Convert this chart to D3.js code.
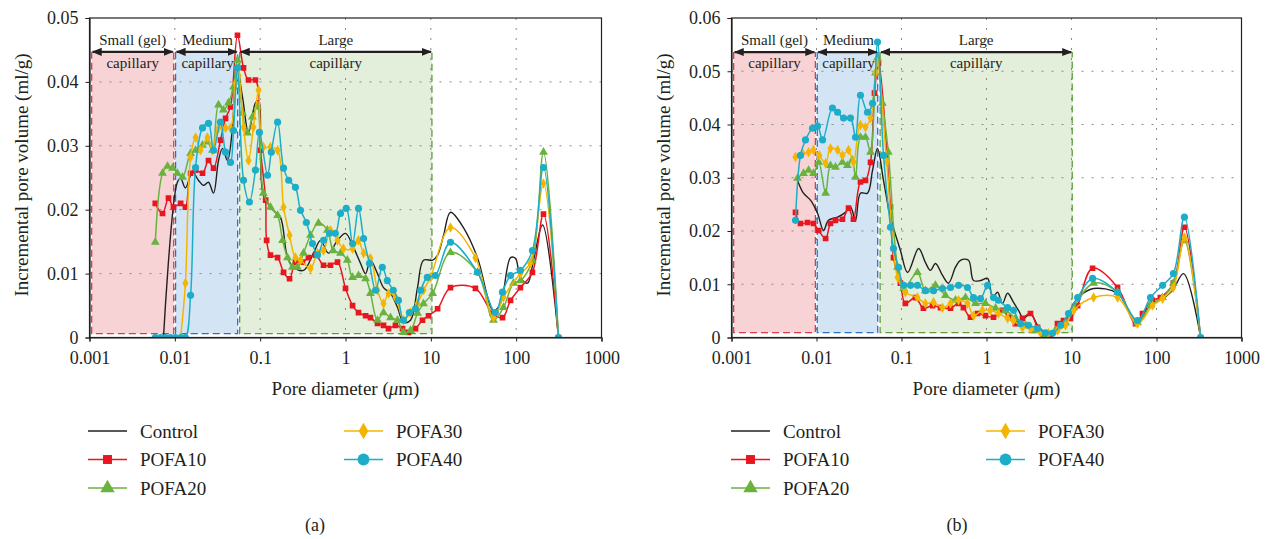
<!DOCTYPE html>
<html><head><meta charset="utf-8">
<script src="https://cdn.jsdelivr.net/npm/d3@7"></script>
<style>
body{margin:0;background:#fff}
svg{display:block}
text{font-family:"Liberation Serif","DejaVu Serif",serif;fill:#231f20}
</style>
</head><body>
<svg id="chart" width="1271" height="539"></svg>
<script>
// ---------- data ----------
const seriesNames = ["Control","POFA10","POFA20","POFA30","POFA40"];
const seriesColors = ["#231f20","#e8161f","#6ab23e","#f5b400","#1cadc9"];
const seriesMarkers = ["none","square","triangle","diamond","circle"];
const xTickValues = [0.001,0.01,0.1,1,10,100,1000];
const xTickLabels = ["0.001","0.01","0.1","1","10","100","1000"];
const yTickValuesA = [0,0.01,0.02,0.03,0.04,0.05];
const yTickLabelsA = ["0","0.01","0.02","0.03","0.04","0.05"];
const yTickValuesB = [0,0.01,0.02,0.03,0.04,0.05,0.06];
const yTickLabelsB = ["0","0.01","0.02","0.03","0.04","0.05","0.06"];
const regionLabels = [["Small (gel)","capillary"],["Medium","capillary"],["Large","capillary"]];
const regionBoundsA = [[0.00106,0.0097],[0.0102,0.0545],[0.0575,10.3]];
const regionBoundsB = [[0.00106,0.0097],[0.0102,0.0525],[0.056,10.2]];
const regionYA = [0.0006,0.0447];
const regionYB = [0.0009,0.0536];
const xTitle = "Pore diameter (";
const yTitle = "Incremental pore volume (ml/g)";
const captions = ["(a)","(b)"];

const a_Control = [[0.00736,0],[0.0107,0.0243],[0.0117,0.0249],[0.0133,0.0234],[0.0161,0.0259],[0.0189,0.0246],[0.0217,0.0238],[0.0248,0.0243],[0.0284,0.0226],[0.0325,0.0277],[0.0362,0.0296],[0.0414,0.0277],[0.0474,0.0329],[0.0528,0.0426],[0.0621,0.0376],[0.073,0.0321],[0.088,0.0367],[0.0957,0.0371],[0.109,0.0223],[0.143,0.0199],[0.173,0.0188],[0.209,0.0125],[0.246,0.011],[0.322,0.0105],[0.422,0.0132],[0.51,0.0152],[0.632,0.0132],[0.806,0.0152],[1.0,0.0163],[1.24,0.0141],[1.5,0.0116],[1.72,0.0100],[1.96,0.0121],[2.37,0.0100],[2.79,0.0078],[3.37,0.0069],[4.07,0.0047],[4.78,0.0024],[5.78,0.0027],[6.98,0.0078],[8.2,0.0121],[10.5,0.0121],[12.0,0.0129],[14.1,0.016],[17.0,0.0196],[24.1,0.0172],[35.2,0.0125],[54.2,0.0042],[65.5,0.0053],[85.9,0.0125],[98,0.0124],[112,0.0094],[136,0.0085],[160,0.0121],[204,0.0176],[313,0]];
const a_POFA10 = [[0.0059,0.0210],[0.00717,0.0194],[0.00843,0.0218],[0.00964,0.0204],[0.0117,0.0210],[0.0133,0.0204],[0.0153,0.0257],[0.0175,0.0262],[0.0211,0.0257],[0.0248,0.0277],[0.0284,0.0265],[0.0343,0.0309],[0.0393,0.0343],[0.0449,0.0361],[0.0542,0.0473],[0.0638,0.0422],[0.073,0.0403],[0.088,0.0403],[0.101,0.0293],[0.116,0.0215],[0.119,0.0152],[0.132,0.0129],[0.160,0.0125],[0.188,0.0102],[0.221,0.0092],[0.259,0.0118],[0.313,0.0118],[0.368,0.0125],[0.446,0.0129],[0.553,0.0113],[0.667,0.0113],[0.806,0.0118],[1.0,0.0077],[1.21,0.0050],[1.42,0.0039],[1.72,0.0034],[1.96,0.0031],[2.37,0.0022],[2.79,0.0019],[3.19,0.0014],[3.85,0.0019],[4.66,0.0014],[5.47,0.0008],[6.61,0.0014],[7.98,0.0027],[9.4,0.0034],[12.0,0.0045],[17.0,0.0078],[33.3,0.0077],[52.8,0.0038],[69.2,0.0031],[85.9,0.0058],[112,0.0078],[155,0.0102],[209,0.0193],[313,0]];
const a_POFA20 = [[0.0059,0.0149],[0.00717,0.0257],[0.00821,0.0268],[0.0094,0.0265],[0.0107,0.0257],[0.0123,0.0251],[0.0153,0.0288],[0.0175,0.0293],[0.0211,0.0301],[0.0241,0.0306],[0.0276,0.0293],[0.0325,0.0364],[0.0371,0.0356],[0.0425,0.0367],[0.0487,0.0392],[0.0542,0.0434],[0.0621,0.0351],[0.0709,0.0320],[0.0811,0.0345],[0.0929,0.0361],[0.109,0.0226],[0.132,0.0204],[0.160,0.0191],[0.183,0.0152],[0.209,0.0125],[0.239,0.0110],[0.273,0.0110],[0.322,0.0132],[0.389,0.0160],[0.482,0.0179],[0.614,0.0168],[0.72,0.0136],[0.874,0.0132],[1.05,0.0121],[1.21,0.0094],[1.42,0.0097],[1.72,0.0092],[1.96,0.0069],[2.37,0.0027],[2.79,0.0039],[3.37,0.0031],[4.07,0.0027],[4.78,0.0008],[5.78,0.0011],[6.98,0.0038],[8.2,0.0053],[10.5,0.0069],[17.0,0.0133],[35.2,0.0102],[54.2,0.0027],[71,0.0047],[93,0.0085],[112,0.0089],[155,0.0121],[209,0.0290],[313,0]];
const a_POFA30 = [[0.0117,0],[0.0133,0.0085],[0.0153,0.0282],[0.0175,0.0313],[0.0200,0.0293],[0.0241,0.0313],[0.0276,0.0293],[0.0325,0.0328],[0.0393,0.0328],[0.0449,0.0328],[0.0514,0.0398],[0.0557,0.0410],[0.0638,0.0329],[0.073,0.0277],[0.0833,0.0329],[0.0957,0.0387],[0.109,0.0298],[0.132,0.0298],[0.160,0.0293],[0.188,0.0204],[0.221,0.0160],[0.259,0.0125],[0.297,0.0121],[0.389,0.0108],[0.47,0.0132],[0.553,0.0136],[0.667,0.0168],[0.806,0.0152],[0.946,0.0139],[1.21,0.0139],[1.42,0.0152],[1.63,0.0132],[1.96,0.0124],[2.37,0.0074],[2.79,0.0053],[3.19,0.0069],[3.85,0.0063],[4.78,0.0027],[5.78,0.0039],[6.98,0.0053],[8.2,0.0074],[9.9,0.0094],[17.0,0.0172],[33.3,0.0125],[54.2,0.0031],[71,0.0063],[112,0.0100],[146,0.0116],[209,0.0241],[313,0]];
const a_POFA40 = [[0.0059,0],[0.0068,0],[0.0078,0],[0.0089,0],[0.0102,0],[0.0117,0],[0.0133,0],[0.0153,0.0066],[0.0175,0.0266],[0.0211,0.0328],[0.0248,0.0335],[0.0284,0.0293],[0.0343,0.0337],[0.0393,0.0290],[0.0449,0.0274],[0.0487,0.0324],[0.0542,0.0422],[0.0638,0.0246],[0.0748,0.0212],[0.088,0.0262],[0.098,0.0321],[0.122,0.0254],[0.135,0.0290],[0.160,0.0337],[0.188,0.0265],[0.216,0.0246],[0.259,0.0235],[0.297,0.0199],[0.348,0.0180],[0.41,0.0147],[0.47,0.0129],[0.553,0.0152],[0.65,0.0163],[0.76,0.0163],[0.874,0.0194],[1.02,0.0202],[1.21,0.0147],[1.42,0.0202],[1.63,0.0155],[1.91,0.0116],[2.25,0.0074],[2.70,0.0110],[3.09,0.0089],[3.63,0.0074],[4.17,0.0058],[4.78,0.0027],[5.6,0.0039],[6.6,0.0045],[7.6,0.0074],[9.1,0.0094],[11.3,0.0097],[17.0,0.0149],[35.2,0.0102],[57,0.0039],[69,0.0071],[86,0.0097],[112,0.0105],[155,0.0136],[209,0.0266],[313,0]];

const b_Control = [[0.00598,0.0295],[0.00703,0.0271],[0.0085,0.0258],[0.0103,0.0233],[0.0121,0.0201],[0.0138,0.0220],[0.0177,0.0226],[0.0219,0.0235],[0.0251,0.0245],[0.0288,0.0220],[0.0329,0.0271],[0.0398,0.0271],[0.0456,0.0314],[0.0522,0.0355],[0.0614,0.0295],[0.0742,0.0226],[0.097,0.0164],[0.118,0.0122],[0.159,0.0167],[0.191,0.0141],[0.219,0.0126],[0.251,0.0139],[0.303,0.0117],[0.357,0.0102],[0.432,0.0132],[0.494,0.0145],[0.614,0.0145],[0.703,0.0107],[0.85,0.0107],[1.03,0.0111],[1.18,0.0075],[1.35,0.0085],[1.54,0.0064],[1.77,0.0083],[2.08,0.0066],[2.38,0.0051],[2.72,0.0036],[3.29,0.0045],[3.98,0.0023],[4.94,0.0009],[5.97,0.0008],[7.03,0.0019],[8.97,0.0036],[10.6,0.0064],[13.8,0.0083],[18.2,0.0092],[34.8,0.0083],[59.8,0.0028],[85,0.0064],[111,0.0070],[154,0.0088],[208,0.0120],[330,0]];
const b_POFA10 = [[0.00566,0.0235],[0.00648,0.0214],[0.00783,0.0216],[0.00922,0.0214],[0.0106,0.0201],[0.0128,0.0186],[0.0146,0.0214],[0.0167,0.0220],[0.0202,0.0222],[0.0238,0.0243],[0.0272,0.0222],[0.0329,0.0292],[0.0377,0.0295],[0.0432,0.0329],[0.0481,0.0459],[0.0536,0.0515],[0.0742,0.0245],[0.0805,0.0150],[0.097,0.0102],[0.111,0.0064],[0.146,0.0075],[0.181,0.0055],[0.232,0.0060],[0.288,0.0056],[0.377,0.0055],[0.469,0.0064],[0.536,0.0056],[0.648,0.0038],[0.783,0.0045],[0.973,0.0041],[1.21,0.0038],[1.54,0.0051],[1.82,0.0038],[2.19,0.0026],[2.65,0.0036],[3.29,0.0045],[3.98,0.0019],[4.69,0.0003],[5.66,0.0004],[6.84,0.0026],[8.05,0.0032],[9.73,0.0036],[11.8,0.0060],[17.7,0.0130],[34.8,0.0094],[56.6,0.0026],[68.4,0.0045],[89.7,0.0070],[111,0.0075],[158,0.0102],[213,0.0207],[330,0]];
const b_POFA20 = [[0.00598,0.0299],[0.00703,0.0308],[0.00807,0.0314],[0.00922,0.0308],[0.0106,0.0329],[0.0128,0.0271],[0.0146,0.0323],[0.0167,0.0320],[0.0202,0.0329],[0.0231,0.0323],[0.0263,0.0333],[0.0288,0.0301],[0.0329,0.0376],[0.0377,0.0376],[0.0432,0.0348],[0.0494,0.0497],[0.0522,0.0525],[0.0596,0.0440],[0.0700,0.0348],[0.0898,0.0132],[0.106,0.0092],[0.154,0.0122],[0.191,0.0088],[0.251,0.0098],[0.329,0.0079],[0.432,0.0070],[0.566,0.0075],[0.743,0.0064],[0.973,0.0064],[1.28,0.0055],[1.67,0.0051],[2.19,0.0036],[2.88,0.0023],[3.77,0.0013],[4.94,0.0004],[6.48,0.0013],[8.5,0.0028],[10.6,0.0056],[18.2,0.0102],[34.8,0.0085],[59.8,0.0028],[85,0.0060],[118,0.0075],[158,0.0102],[213,0.0182],[330,0]];
const b_POFA30 = [[0.00566,0.0339],[0.00685,0.0346],[0.00807,0.0348],[0.00922,0.0352],[0.0108,0.0342],[0.0128,0.0327],[0.0146,0.0355],[0.0177,0.0352],[0.0202,0.0342],[0.0238,0.0352],[0.0272,0.0329],[0.0329,0.0399],[0.0377,0.0395],[0.0432,0.0412],[0.0494,0.0497],[0.0522,0.0517],[0.067,0.0330],[0.0898,0.0113],[0.111,0.0085],[0.154,0.0075],[0.191,0.0064],[0.238,0.0066],[0.303,0.0056],[0.377,0.0064],[0.469,0.0070],[0.597,0.0064],[0.703,0.0041],[0.897,0.0051],[1.11,0.0051],[1.38,0.0045],[1.77,0.0036],[2.08,0.0032],[2.65,0.0019],[3.29,0.0017],[4.31,0.0009],[5.36,0.0008],[6.84,0.0013],[8.5,0.0023],[10.6,0.0051],[18.2,0.0075],[34.8,0.0075],[59.8,0.0026],[89.7,0.0060],[118,0.0073],[158,0.0094],[213,0.0188],[330,0]];
const b_POFA40 = [[0.00566,0.0220],[0.00648,0.0342],[0.00742,0.0371],[0.00897,0.0393],[0.0103,0.0397],[0.0118,0.0371],[0.0154,0.0431],[0.0177,0.0423],[0.0208,0.0412],[0.0251,0.0412],[0.0288,0.0376],[0.0329,0.0455],[0.0398,0.0423],[0.0456,0.0440],[0.0522,0.0555],[0.0614,0.0342],[0.0742,0.0207],[0.0805,0.0167],[0.0922,0.0132],[0.106,0.0098],[0.128,0.0098],[0.154,0.0098],[0.191,0.0088],[0.238,0.0088],[0.303,0.0092],[0.377,0.0094],[0.469,0.0098],[0.597,0.0094],[0.703,0.0075],[0.85,0.0073],[1.03,0.0098],[1.21,0.0075],[1.38,0.0070],[1.77,0.0056],[2.08,0.0051],[2.51,0.0026],[3.12,0.0023],[3.98,0.0017],[4.94,0.0009],[5.97,0.0008],[7.43,0.0023],[9.22,0.0045],[11.8,0.0075],[17.7,0.0111],[34.8,0.0085],[59.8,0.0032],[85,0.0075],[118,0.0098],[158,0.0120],[213,0.0226],[330,0]];

// ---------- drawing ----------
const svg = d3.select("#chart");
const defs = svg.append("defs");
defs.append("marker").attr("id","arrow").attr("viewBox","0 0 10 10")
  .attr("refX",9).attr("refY",5).attr("markerWidth",4.2).attr("markerHeight",4.2)
  .attr("orient","auto-start-reverse").attr("markerUnits","strokeWidth")
  .append("path").attr("d","M0,1 L10,5 L0,9 Z").attr("fill","#231f20");

const regionFills = ["#f7d3d6","#d3e5f4","#e3eedb"];
const regionStrokes = ["#e03a46","#2f6fc0","#5c9e3c"];

function markerPath(type, size){
  const map = {square:d3.symbolSquare, triangle:d3.symbolTriangle, diamond:d3.symbolDiamond, circle:d3.symbolCircle};
  return d3.symbol().type(map[type]).size(size)();
}

function drawPanel(cfg, idx){
  const x = d3.scaleLog().domain([0.001,1000]).range([cfg.x0,cfg.x1]);
  const y = d3.scaleLinear().domain([0,cfg.yMax]).range([337.5,18]);
  const g = svg.append("g");
  const clipId = "clip"+idx;
  defs.append("clipPath").attr("id",clipId).append("rect")
    .attr("x",cfg.x0).attr("y",18).attr("width",cfg.x1-cfg.x0).attr("height",337.5-18);

  cfg.regions.forEach((r,i)=>{
    const rx0=x(r[0]), rx1=x(r[1]), ry0=y(cfg.regY[1]), ry1=y(cfg.regY[0]);
    g.append("rect").attr("x",rx0).attr("y",ry0).attr("width",rx1-rx0).attr("height",ry1-ry0).attr("fill",regionFills[i]);
  });
  const grid = g.append("g").attr("stroke","#8a8a8a").attr("stroke-width",1).attr("stroke-dasharray","2,8");
  cfg.yTicks.slice(1,-1).forEach(v=>{
    grid.append("line").attr("x1",cfg.x0).attr("x2",cfg.x1).attr("y1",y(v)).attr("y2",y(v));
  });
  xTickValues.slice(1,-1).forEach(v=>{
    grid.append("line").attr("x1",x(v)).attr("x2",x(v)).attr("y1",18).attr("y2",337.5);
  });
  cfg.regions.forEach((r,i)=>{
    const rx0=x(r[0]), rx1=x(r[1]), ry0=y(cfg.regY[1]), ry1=y(cfg.regY[0]);
    g.append("path").attr("d",`M${rx0},${ry0} L${rx0},${ry1} L${rx1},${ry1} L${rx1},${ry0}`)
      .attr("fill","none").attr("stroke",regionStrokes[i]).attr("stroke-width",1.3).attr("stroke-dasharray","7,4");
  });

  const line = d3.line().x(d=>x(d[0])).y(d=>y(d[1])).curve(d3.curveCatmullRom.alpha(0.5));
  const sg = g.append("g").attr("clip-path",`url(#${clipId})`);
  cfg.series.forEach((data,i)=>{
    sg.append("path").datum(data).attr("d",line).attr("fill","none")
      .attr("stroke",seriesColors[i]).attr("stroke-width",i===0?1.4:1.5);
    if(seriesMarkers[i]!=="none"){
      sg.selectAll(null).data(data).enter().append("path")
        .attr("d",markerPath(seriesMarkers[i], seriesMarkers[i]==="circle"?40:(seriesMarkers[i]==="triangle"?34:32)))
        .attr("transform",d=>`translate(${x(d[0])},${y(d[1])})`)
        .attr("fill",seriesColors[i]);
    }
  });

  const ay = y(cfg.regY[1]);
  cfg.regions.forEach((r,i)=>{
    g.append("line").attr("x1",x(r[0])+1).attr("x2",x(r[1])-1).attr("y1",ay).attr("y2",ay)
      .attr("stroke","#231f20").attr("stroke-width",2.4)
      .attr("marker-start","url(#arrow)").attr("marker-end","url(#arrow)");
    const cx = (x(r[0])+x(r[1]))/2 + (i===1?1:0);
    g.append("text").attr("x",cx).attr("y",ay-7).attr("text-anchor","middle").attr("font-size",15).text(regionLabels[i][0]);
    g.append("text").attr("x",cx).attr("y",ay+16).attr("text-anchor","middle").attr("font-size",15).text(regionLabels[i][1]);
  });

  const yAxis = d3.axisLeft(y).tickValues(cfg.yTicks).tickFormat((d,i)=>cfg.yLabels[i]).tickSize(4).tickPadding(7);
  const ya = g.append("g").attr("transform",`translate(${cfg.x0},0)`).call(yAxis);
  const xAxis = d3.axisBottom(x).tickValues(xTickValues).tickFormat((d,i)=>xTickLabels[i]).tickSize(4).tickPadding(10);
  const xa = g.append("g").attr("transform","translate(0,337.5)").call(xAxis);
  [ya,xa].forEach(a=>{
    a.selectAll("text").attr("font-size",18).attr("font-family","Liberation Serif").attr("fill","#231f20");
    a.selectAll("line").attr("stroke","#231f20");
    a.select(".domain").attr("stroke","#231f20").attr("stroke-width",1.2);
  });
  g.append("rect").attr("x",cfg.x0).attr("y",18).attr("width",cfg.x1-cfg.x0).attr("height",337.5-18)
    .attr("fill","none").attr("stroke","#231f20").attr("stroke-width",1.2);

  const xt = g.append("text").attr("x",(cfg.x0+cfg.x1)/2).attr("y",395).attr("text-anchor","middle").attr("font-size",19);
  xt.append("tspan").text(xTitle);
  xt.append("tspan").attr("font-style","italic").text("\u03bc");
  xt.append("tspan").text("m)");
  g.append("text").attr("transform",`translate(${cfg.x0-62},175) rotate(-90)`).attr("text-anchor","middle").attr("font-size",19).text(yTitle);

  const lg = g.append("g");
  seriesNames.forEach((name,i)=>{
    const col = i<3?0:1, row = i<3?i:i-3;
    const lx = cfg.legX[col], ly = 431 + row*28.5;
    lg.append("line").attr("x1",lx).attr("x2",lx+39).attr("y1",ly).attr("y2",ly)
      .attr("stroke",seriesColors[i]).attr("stroke-width",1.5);
    if(seriesMarkers[i]!=="none"){
      lg.append("path").attr("d",markerPath(seriesMarkers[i], seriesMarkers[i]==="circle"?110:(seriesMarkers[i]==="triangle"?90:80)))
        .attr("transform",`translate(${lx+19.5},${ly})`).attr("fill",seriesColors[i]);
    }
    lg.append("text").attr("x",lx+52).attr("y",ly+6.5).attr("font-size",19).text(name);
  });
  g.append("text").attr("x",cfg.capX).attr("y",531).attr("text-anchor","middle").attr("font-size",18).text(captions[idx]);
}

drawPanel({x0:89.5,x1:601.5,yMax:0.05,yTicks:yTickValuesA,yLabels:yTickLabelsA,regions:regionBoundsA,regY:regionYA,
  series:[a_Control,a_POFA10,a_POFA20,a_POFA30,a_POFA40],legX:[88,344],capX:315},0);
drawPanel({x0:731.5,x1:1241.5,yMax:0.06,yTicks:yTickValuesB,yLabels:yTickLabelsB,regions:regionBoundsB,regY:regionYB,
  series:[b_Control,b_POFA10,b_POFA20,b_POFA30,b_POFA40],legX:[731,986],capX:957},1);
</script>
</body></html>
